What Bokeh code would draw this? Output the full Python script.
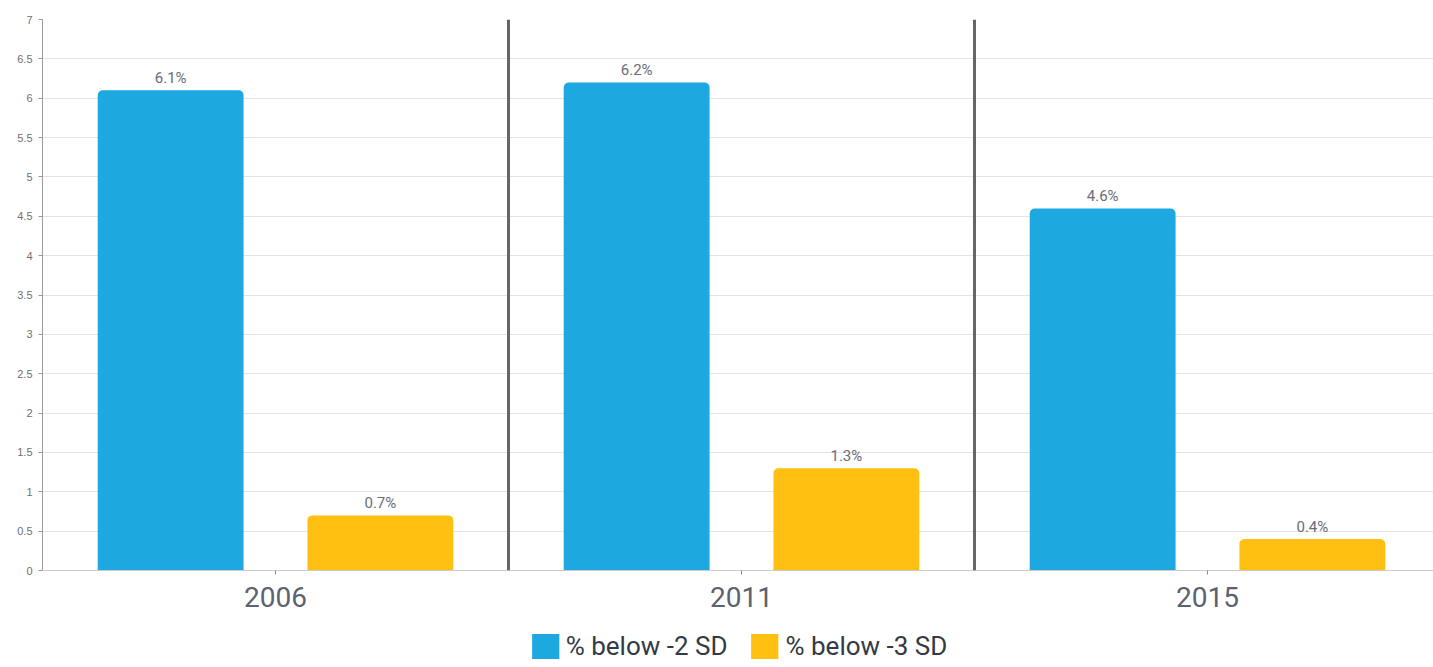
from bokeh.plotting import figure
from bokeh.layouts import column
from bokeh.models import ColumnDataSource, FixedTicker, Span, Legend, LegendItem, Range1d
from bokeh.core.properties import value
from bokeh.embed import file_html
from bokeh.resources import INLINE

# Survey years and shares of children below the reference thresholds
years = ["2006", "2011", "2015"]
below_2sd = [6.1, 6.2, 4.6]
below_3sd = [0.7, 1.3, 0.4]
series_names = ["% below -2 SD", "% below -3 SD"]
y_ticks = [0, 0.5, 1, 1.5, 2, 2.5, 3, 3.5, 4, 4.5, 5, 5.5, 6, 6.5, 7]

BLUE = "#1ea8e0"
YELLOW = "#ffc012"
LABEL_FONT = "Roboto"

centers = [i + 0.5 for i in range(len(years))]
src2 = ColumnDataSource(dict(
    x=[c - 0.225 for c in centers], top=below_2sd,
    label=[f"{v:g}%" for v in below_2sd]))
src3 = ColumnDataSource(dict(
    x=[c + 0.225 for c in centers], top=below_3sd,
    label=[f"{v:g}%" for v in below_3sd]))

p = figure(frame_width=1391, frame_height=551,
           x_range=Range1d(0, 1391 / 466), y_range=Range1d(0, 7),
           output_backend="svg", toolbar_location=None,
           min_border_left=42, min_border_right=0, min_border_top=19,
           min_border_bottom=54, background_fill_color="white",
           border_fill_color="white", outline_line_color=None)

p.vbar(x="x", top="top", width=0.313, source=src2, fill_color=BLUE,
       line_color=None, border_radius=(5, 5, 0, 0))
p.vbar(x="x", top="top", width=0.313, source=src3, fill_color=YELLOW,
       line_color=None, border_radius=(5, 5, 0, 0))

for s in (src2, src3):
    p.text(x="x", y="top", text="label", source=s, text_align="center",
           text_baseline="bottom", y_offset=-3, text_font=value(LABEL_FONT),
           text_font_size="15px", text_color="#676d79")

# group separators
for xs in range(1, len(years)):
    p.add_layout(Span(location=xs, dimension="height", line_color="#666666",
                      line_width=3))

p.xgrid.grid_line_color = None
p.ygrid.grid_line_color = "#e4e4e4"
p.ygrid.ticker = FixedTicker(ticks=y_ticks)

p.yaxis.ticker = FixedTicker(ticks=y_ticks)
p.yaxis.major_label_overrides = {t: f"{t:g}" for t in y_ticks}
p.yaxis.major_label_text_font = "Liberation Sans"
p.yaxis.major_label_text_font_size = "11px"
p.yaxis.major_label_text_color = "#707070"
p.yaxis.axis_line_color = "#9a9a9a"
p.yaxis.major_tick_line_color = "#9a9a9a"
p.yaxis.major_tick_in = 0
p.yaxis.major_tick_out = 4
p.yaxis.minor_tick_line_color = None
p.yaxis.major_label_standoff = 6

p.xaxis.ticker = FixedTicker(ticks=centers)
p.xaxis.major_label_overrides = {c: y for c, y in zip(centers, years)}
p.xaxis.major_label_text_font = LABEL_FONT
p.xaxis.major_label_text_font_size = "28px"
p.xaxis.major_label_text_color = "#5c6270"
p.xaxis.axis_line_color = "#cccccc"
p.xaxis.major_tick_line_color = "#888888"
p.xaxis.major_tick_in = 0
p.xaxis.major_tick_out = 4
p.xaxis.minor_tick_line_color = None
p.xaxis.major_label_standoff = 12

# legend strip under the chart; its swatch renderers sit far outside the visible range
leg = figure(width=1433, height=43, x_range=Range1d(0, 1), y_range=Range1d(0, 1),
             output_backend="svg", toolbar_location=None, min_border=0,
             outline_line_color=None, background_fill_color="white",
             border_fill_color="white")
leg.axis.visible = False
leg.grid.visible = False
lr2 = leg.vbar(x=[50], top=[0.5], width=0.01, fill_color=BLUE, line_color=None)
lr3 = leg.vbar(x=[50], top=[0.5], width=0.01, fill_color=YELLOW, line_color=None)
legend = Legend(items=[LegendItem(label=series_names[0], renderers=[lr2]),
                       LegendItem(label=series_names[1], renderers=[lr3])],
                orientation="horizontal", location="center",
                label_text_font=LABEL_FONT, label_text_font_size="26px",
                label_text_color="#333a44", glyph_width=34, glyph_height=31,
                label_standoff=4, spacing=20, padding=2, margin=0,
                border_line_color=None, background_fill_alpha=0)
leg.add_layout(legend, "center")

layout = column(p, leg, spacing=0)
open("out.html", "w").write(file_html(layout, INLINE))
